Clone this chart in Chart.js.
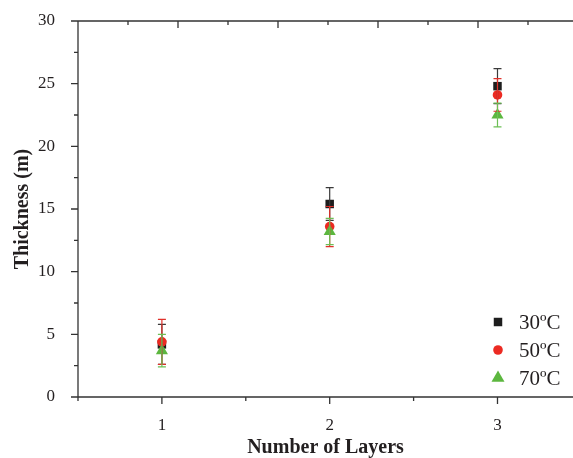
<!DOCTYPE html>
<html>
<head>
<meta charset="utf-8">
<script src="https://cdn.jsdelivr.net/npm/chart.js@4.4.1/dist/chart.umd.min.js"></script>
<style>
  html, body { margin: 0; padding: 0; background: #fff; }
</style>
</head>
<body>
<canvas id="chart" width="573" height="458"></canvas>
<script>
// values
const layers = [1, 2, 3];
const t30 = [4.2, 15.4, 24.8];
const e30 = [1.6, 1.3, 1.4];
const t50 = [4.4, 13.6, 24.1];
const e50 = [1.8, 1.6, 1.3];
const t70 = [3.7, 13.2, 22.5];
const e70 = [1.3, 1.05, 0.95];
const xTicks = [1, 2, 3];
const yTicks = [0, 5, 10, 15, 20, 25, 30];

const SERIF = '"Liberation Serif", "Times New Roman", serif';
const AXIS = '#333333';
Chart.defaults.font.family = SERIF;
Chart.defaults.color = '#231f20';

const toPoints = (ys) => layers.map((x, i) => ({ x: x, y: ys[i] }));

// error bars from the err arrays, through the scales
const errorBars = {
    id: 'errorBars',
    afterDatasetsDraw(chart) {
        const { ctx, scales: { x, y } } = chart;
        chart.data.datasets.forEach((ds) => {
            ctx.save();
            ctx.strokeStyle = ds.errColor;
            ctx.lineWidth = 1.2;
            ctx.beginPath();
            ds.data.forEach((p, j) => {
                const px = x.getPixelForValue(p.x);
                const top = y.getPixelForValue(p.y + ds.err[j]);
                const bot = y.getPixelForValue(p.y - ds.err[j]);
                ctx.moveTo(px, top); ctx.lineTo(px, bot);
                ctx.moveTo(px - 4, top); ctx.lineTo(px + 4, top);
                ctx.moveTo(px - 4, bot); ctx.lineTo(px + 4, bot);
            });
            ctx.stroke();
            ctx.restore();
        });
    }
};

// axis frame with major / minor ticks (origin style)
const frame = {
    id: 'frame',
    beforeDatasetsDraw(chart) {
        const { ctx, chartArea: a, scales: { x, y, xTop } } = chart;
        ctx.save();
        ctx.strokeStyle = AXIS;
        ctx.lineWidth = 1.3;
        ctx.beginPath();
        ctx.moveTo(a.left, a.top); ctx.lineTo(a.right, a.top);
        ctx.moveTo(a.left, a.top - 0.6); ctx.lineTo(a.left, a.bottom);
        ctx.moveTo(a.left, a.bottom); ctx.lineTo(a.right, a.bottom);
        for (let v = x.min; v <= x.max + 1e-9; v += 0.5) {
            const px = x.getPixelForValue(v);
            const len = Math.abs(v % 1) < 1e-9 ? 7 : 4;
            ctx.moveTo(px, a.bottom); ctx.lineTo(px, a.bottom + len);
        }
        for (let v = y.min; v <= y.max + 1e-9; v += 2.5) {
            const py = y.getPixelForValue(v);
            const len = Math.abs(v % 5) < 1e-9 ? 7 : 4;
            ctx.moveTo(a.left, py); ctx.lineTo(a.left - len, py);
        }
        for (let v = xTop.min + 0.5; v <= xTop.max + 1e-9; v += 0.5) {
            const px = xTop.getPixelForValue(v);
            const len = Math.abs(v % 1) < 1e-9 ? 7 : 4;
            ctx.moveTo(px, a.top); ctx.lineTo(px, a.top + len);
        }
        ctx.stroke();
        ctx.restore();
    }
};

// legend inside the plot, lower right
const insideLegend = {
    id: 'insideLegend',
    afterDraw(chart) {
        const { ctx, chartArea: a } = chart;
        const mx = a.right - 75;
        let my = a.bottom - 75;
        ctx.save();
        ctx.font = '21px ' + SERIF;
        ctx.textBaseline = 'middle';
        ctx.textAlign = 'left';
        chart.data.datasets.forEach((ds) => {
            ctx.fillStyle = ds.backgroundColor;
            ctx.strokeStyle = ds.backgroundColor;
            Chart.helpers.drawPoint(ctx, {
                pointStyle: ds.pointStyle,
                radius: ds.legendRadius,
                borderWidth: 0,
                rotation: 0
            }, mx, my);
            ctx.fillStyle = '#231f20';
            ctx.fillText(ds.label, mx + 21, my + 1);
            my += 28;
        });
        ctx.restore();
    }
};

new Chart(document.getElementById('chart'), {
    type: 'scatter',
    data: {
        datasets: [
            {
                label: '30ºC', data: toPoints(t30), err: e30, errColor: '#3a3a3a',
                pointStyle: 'rect', pointRadius: 6, legendRadius: 6,
                backgroundColor: '#1d1d1d', borderColor: '#1d1d1d', borderWidth: 0, order: 3
            },
            {
                label: '50ºC', data: toPoints(t50), err: e50, errColor: '#e0302a',
                pointStyle: 'circle', pointRadius: 4.8, legendRadius: 4.8,
                backgroundColor: '#ec2a22', borderColor: '#ec2a22', borderWidth: 0, order: 2
            },
            {
                label: '70ºC', data: toPoints(t70), err: e70, errColor: '#6cbf55',
                pointStyle: 'triangle', pointRadius: 7, legendRadius: 7.5,
                backgroundColor: '#5cb73f', borderColor: '#5cb73f', borderWidth: 0, order: 1
            }
        ]
    },
    options: {
        responsive: false,
        animation: false,
        events: [],
        layout: { autoPadding: false, padding: { top: 21, right: 0, bottom: 0, left: 0 } },
        plugins: { legend: { display: false }, tooltip: { enabled: false } },
        scales: {
            x: {
                type: 'linear',
                position: 'bottom',
                min: 0.5,
                max: 3.45,
                grid: { display: false },
                border: { display: false },
                afterBuildTicks: (s) => { s.ticks = xTicks.map((v) => ({ value: v })); },
                afterFit: (s) => { s.height = 61; s.paddingLeft = 0; s.paddingRight = 0; },
                ticks: { padding: 10, font: { size: 17 }, color: '#231f20' },
                title: {
                    display: true,
                    text: 'Number of Layers',
                    font: { size: 20, weight: 'bold' },
                    color: '#231f20',
                    padding: { top: 0, bottom: -2 }
                }
            },
            xTop: {
                type: 'linear',
                position: 'top',
                display: false,
                min: 0,
                max: 4.95
            },
            y: {
                type: 'linear',
                min: 0,
                max: 30,
                grid: { display: false },
                border: { display: false },
                afterBuildTicks: (s) => { s.ticks = yTicks.map((v) => ({ value: v })); },
                afterFit: (s) => { s.width = 78; s.paddingTop = 0; s.paddingBottom = 0; },
                ticks: { padding: 15, font: { size: 17 }, color: '#231f20' },
                title: {
                    display: true,
                    text: 'Thickness (m)',
                    font: { size: 20, weight: 'bold' },
                    color: '#231f20',
                    padding: { top: 11, bottom: 0 }
                }
            }
        }
    },
    plugins: [frame, errorBars, insideLegend]
});
</script>
</body>
</html>
